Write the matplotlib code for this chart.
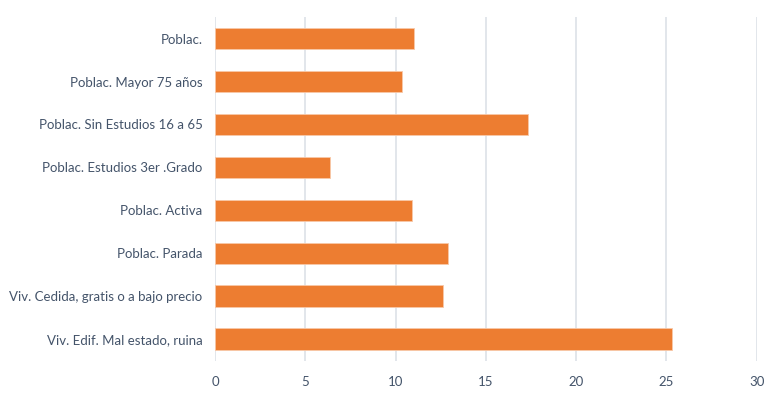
import matplotlib
matplotlib.use("Agg")
import matplotlib.pyplot as plt

categories = [
    "Poblac.",
    "Poblac. Mayor 75 años",
    "Poblac. Sin Estudios 16 a 65",
    "Poblac. Estudios 3er .Grado",
    "Poblac. Activa",
    "Poblac. Parada",
    "Viv. Cedida, gratis o a bajo precio",
    "Viv. Edif. Mal estado, ruina",
]
values = [11.0, 10.36, 17.36, 6.35, 10.9, 12.9, 12.65, 25.32]
xticks = [0, 5, 10, 15, 20, 25, 30]

plt.rcParams['font.family'] = ['Lato', 'DejaVu Sans']
text_color = "#44546A"

fig = plt.figure(figsize=(7.68, 3.98), dpi=100)
ax = fig.add_axes([0.28, 0.094, 0.7053, 0.863])

y = list(range(len(categories)))
ax.barh(y, values, height=0.5, color="#ED7D31", edgecolor="#F8C8A8", linewidth=0.6, zorder=3)
ax.set_yticks(y)
ax.set_yticklabels(categories)
ax.set_ylim(len(categories) - 0.5, -0.5)
ax.set_xlim(0, 30)
ax.set_xticks(xticks)
ax.set_xticklabels([str(t) for t in xticks])
ax.xaxis.grid(True, color="#DDE2E8", linewidth=1.2, zorder=0)
ax.set_axisbelow(True)
for s in ax.spines.values():
    s.set_visible(False)
ax.tick_params(axis='both', length=0, colors=text_color, labelsize=9.5)
ax.tick_params(axis='y', pad=9)
ax.tick_params(axis='x', pad=11)

fig.savefig("out.png", dpi=100)
